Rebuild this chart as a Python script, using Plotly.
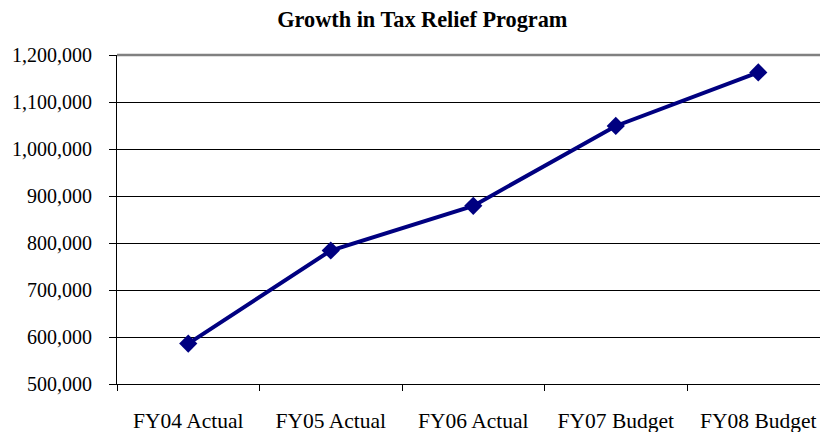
import plotly.graph_objects as go

categories = ["FY04 Actual", "FY05 Actual", "FY06 Actual", "FY07 Budget", "FY08 Budget"]
values = [586000, 784000, 879000, 1049000, 1163000]
y_min, y_max, y_step = 500000, 1200000, 100000

fig = go.Figure()
fig.add_trace(go.Scatter(
    x=categories, y=values, mode="lines+markers",
    line=dict(color="#000080", width=4),
    marker=dict(symbol="diamond", size=14, color="#000080"),
    showlegend=False, hoverinfo="skip",
))

font_family = "Liberation Serif, Times New Roman, serif"
fig.update_layout(
    width=820, height=432,
    margin=dict(l=117, r=0, t=55, b=48),
    paper_bgcolor="white", plot_bgcolor="white",
    font=dict(family=font_family, color="black", size=20),
    title=dict(text="<b>Growth in Tax Relief Program</b>", x=0.515, xanchor="center",
               y=0.956, yanchor="middle", font=dict(size=22.3, family=font_family, color="black")),
)
fig.update_xaxes(
    type="category", range=[-0.5, 4.433],
    showline=True, linecolor="black", linewidth=1,
    ticks="outside", tickson="boundaries", ticklen=6, tickcolor="black", tickwidth=1,
    showgrid=False, tickfont=dict(size=21.5), ticklabelstandoff=17,
)
fig.update_yaxes(
    range=[y_min, y_max], dtick=y_step, tick0=y_min, tickformat=",d",
    showline=True, linecolor="black", linewidth=1,
    ticks="outside", ticklen=7, tickcolor="black", tickwidth=1,
    showgrid=True, gridcolor="black", gridwidth=1, zeroline=False,
    tickfont=dict(size=20), ticklabelstandoff=13,
)
# plot-area top border (gray frame line)
fig.add_shape(type="line", xref="paper", yref="paper", x0=0, x1=1, y0=1, y1=1,
              line=dict(color="#808080", width=2.5), layer="above")

fig.write_html("out.html")
